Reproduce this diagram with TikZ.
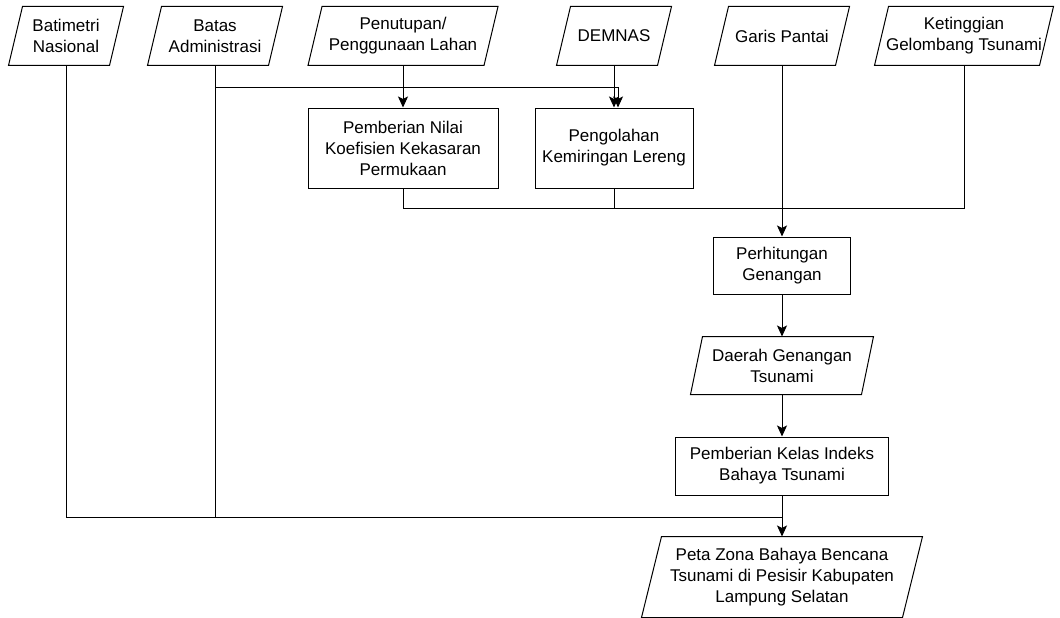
\documentclass[tikz,border=0pt]{standalone}
\usepackage{fontspec}
\setmainfont{Liberation Sans}
\usetikzlibrary{arrows.meta}
\begin{document}
\begin{tikzpicture}[x=1pt,y=-1pt,
  font=\fontsize{17}{21}\selectfont,
  line width=1pt,
  proc/.style={draw, rectangle, align=center, inner sep=0pt},
  io/.style={rectangle, align=center, inner sep=0pt, minimum height=58pt,
     append after command={\pgfextra{\let\LN\tikzlastnode
       \draw ([xshift=#1]\LN.north west) -- ([xshift=#1]\LN.north east)
         -- ([xshift=-#1]\LN.south east) -- ([xshift=-#1]\LN.south west) -- cycle;}}},
  io/.default=7pt,
  arr/.style={-{Stealth[length=11pt,width=10pt,inset=2.5pt]}}]
\useasboundingbox (0,0) rectangle (1060,618);

\node[io, minimum width=100pt] (bat) at (66,36) {Batimetri\\Nasional};
\node[io, minimum width=120pt] (bts) at (215,36) {Batas\\Administrasi};
\node[io, minimum width=175pt] (pen) at (403,36) {Penutupan/\\Penggunaan Lahan};
\node[io, minimum width=100pt] (dem) at (614,36) {DEMNAS};
\node[io, minimum width=120pt] (gar) at (782,36) {Garis Pantai};
\node[io, minimum width=164pt] (ket) at (964,36) {Ketinggian\\Gelombang Tsunami};

\node[proc, minimum width=190pt, minimum height=80pt] (pnk) at (403,148) {Pemberian Nilai\\Koefisien Kekasaran\\Permukaan};
\node[proc, minimum width=158pt, minimum height=80pt] (png) at (614,148) {Pengolahan\\Kemiringan Lereng};
\node[proc, minimum width=137pt, minimum height=57pt] (per) at (782,265.5) {Perhitungan\\Genangan};
\node[io=6pt, minimum width=170pt, minimum height=57pt] (dae) at (782,365.5) {Daerah Genangan\\Tsunami};
\node[proc, minimum width=213pt, minimum height=58pt] (pki) at (782,466) {Pemberian Kelas Indeks\\Bahaya Tsunami};
\node[io=10pt, minimum width=260pt, minimum height=80pt] (pet) at (782,577) {Peta Zona Bahaya Bencana\\Tsunami di Pesisir Kabupaten\\Lampung Selatan};

\coordinate (j1) at (618,87);
\coordinate (j2) at (782,208);
\coordinate (j3) at (782,517);

% top branches
\draw[arr] (bts.south |- j1) -- (j1) -- (j1 |- png.north);
\draw[arr] (pen.south) -- (pnk.north);
\draw[arr] (dem.south) -- (png.north);

% collector to Perhitungan
\draw (pnk.south) -- (pnk.south |- j2) -- (ket.south |- j2) -- (ket.south);
\draw (png.south) -- (png.south |- j2);
\draw[arr] (gar.south) -- (per.north);

% chain
\draw[arr] (per.south) -- (dae.north);
\draw[arr] (dae.south) -- (pki.north);
\draw[arr] (pki.south) -- (pet.north);

% long lines to final output
\draw (bat.south) |- (j3);
\draw (bts.south) -- (bts.south |- j3);
\end{tikzpicture}
\end{document}
